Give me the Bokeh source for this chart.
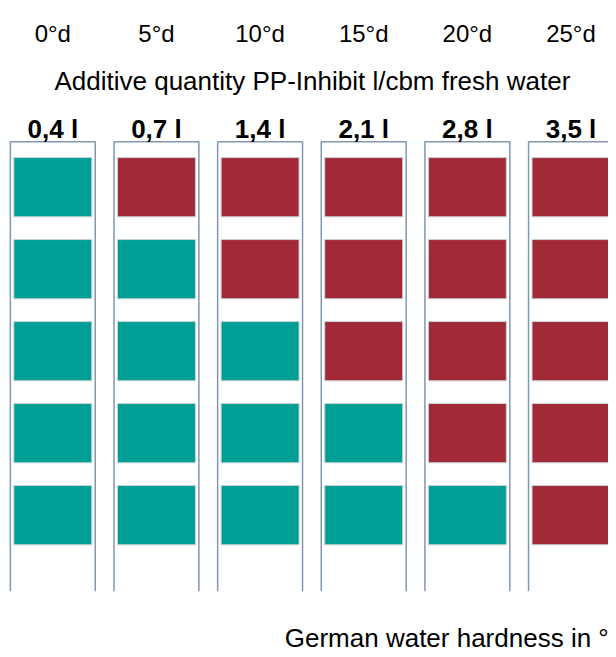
from bokeh.plotting import figure
from bokeh.models import Range1d, ColumnDataSource
from bokeh.core.properties import value
from bokeh.embed import file_html
from bokeh.resources import INLINE

# ---------------- data ----------------
hardness_labels = ["0°d", "5°d", "10°d", "15°d", "20°d", "25°d"]
dose_labels = ["0,4 l", "0,7 l", "1,4 l", "2,1 l", "2,8 l", "3,5 l"]
# status of each cell, rows top to bottom, columns left to right
row_1 = ["ok", "no", "no", "no", "no", "no"]
row_2 = ["ok", "ok", "no", "no", "no", "no"]
row_3 = ["ok", "ok", "ok", "no", "no", "no"]
row_4 = ["ok", "ok", "ok", "ok", "no", "no"]
row_5 = ["ok", "ok", "ok", "ok", "ok", "no"]
rows = [row_1, row_2, row_3, row_4, row_5]
title_text = "Additive quantity PP-Inhibit l/cbm fresh water"
axis_text = "German water hardness in °d"

# ---------------- layout ----------------
W, H = 608, 649          # figure size (fits the window with its 8px margin)
REF_W, REF_H = 616, 657  # design canvas the layout below is measured on
COL_PITCH = 105.0
ROW_PITCH = 83.0
X0 = 53.0     # design px of column 0 centre
Y0 = 189.0    # design px of row 0 centre
TXT_SHIFT = -8  # compensates the SVG baseline placement

def xpx(px):  # design px -> column units
    return (px - X0) / COL_PITCH

def ypx(px):  # design px (from top) -> row units
    return (px - Y0) / ROW_PITCH

TEAL = "#009F96"
RED = "#A22A38"
colors = {"ok": TEAL, "no": RED}
FONT = "Liberation Sans"

p = figure(width=W, height=H, output_backend="svg", toolbar_location=None,
           x_range=Range1d(xpx(0), xpx(REF_W)), y_range=Range1d(ypx(REF_H), ypx(0)),
           x_axis_location=None, y_axis_location=None,
           min_border=0, outline_line_color=None,
           background_fill_color="white", border_fill_color="white")
p.xgrid.visible = False
p.ygrid.visible = False

# cells
xs, ys, fills = [], [], []
for j, row in enumerate(rows):
    for i, s in enumerate(row):
        xs.append(i)
        ys.append(j)
        fills.append(colors[s])
src = ColumnDataSource(dict(x=xs, y=ys, fill=fills))
p.rect(x="x", y="y", width=79 / COL_PITCH, height=60 / ROW_PITCH, source=src,
       fill_color="fill", line_color="#c9d3d6", line_width=1)

# column boxes (open at the bottom)
half = 43 / COL_PITCH
top = ypx(143)
bot = ypx(598)
bx, by = [], []
for i in range(len(dose_labels)):
    bx.append([i - half, i - half, i + half, i + half])
    by.append([bot, top, top, bot])
p.multi_line(xs=bx, ys=by, line_color="#8297b0", line_width=1.5)

# texts
cols = list(range(len(hardness_labels)))
p.text(x=cols, y=[ypx(41 + TXT_SHIFT)] * len(cols), text=hardness_labels,
       text_font=value(FONT), text_font_size="24px", text_color="black",
       text_align="center", text_baseline="alphabetic")
p.text(x=[xpx(316)], y=[ypx(89 + TXT_SHIFT)], text=[title_text],
       text_font=value(FONT), text_font_size="26px", text_color="black",
       text_align="center", text_baseline="alphabetic")
p.text(x=cols, y=[ypx(138 + TXT_SHIFT)] * len(cols), text=dose_labels,
       text_font=value(FONT), text_font_size="26px", text_font_style="bold",
       text_color="black", text_align="center", text_baseline="alphabetic")
p.text(x=[xpx(288)], y=[ypx(653 + TXT_SHIFT)], text=[axis_text],
       text_font=value(FONT), text_font_size="26px", text_color="black",
       text_align="left", text_baseline="alphabetic")

open("out.html", "w").write(file_html(p, INLINE))
